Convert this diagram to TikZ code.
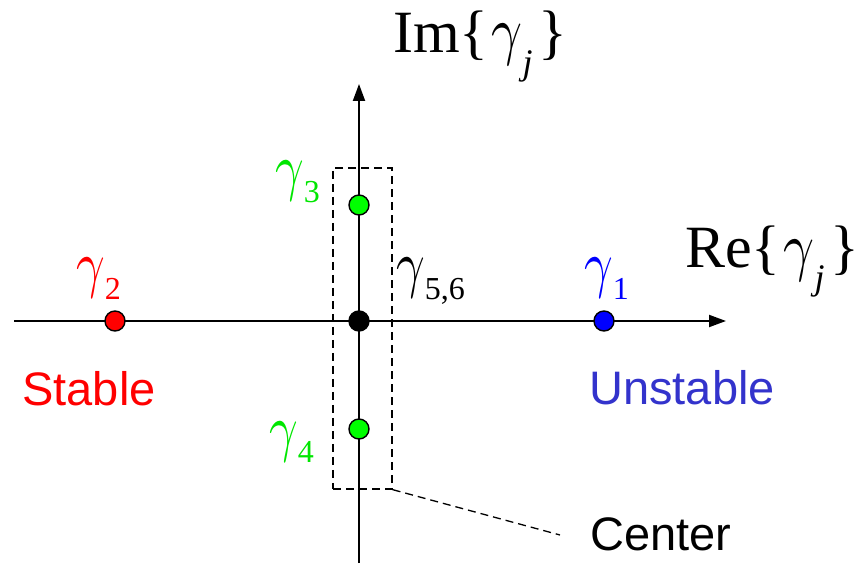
\documentclass[tikz,border=0pt]{standalone}
\usepackage{graphicx}
\usepackage{fontspec}
\setmainfont{Liberation Serif}
\newfontfamily\arialf{Liberation Sans}
\usetikzlibrary{arrows.meta}
\definecolor{pgreen}{RGB}{0,230,0}
\definecolor{dgreen}{RGB}{0,255,0}
\definecolor{ublue}{RGB}{51,51,204}
\newcommand{\gsub}[1]{\raisebox{-14pt}{\fontsize{32}{32}\selectfont #1}}
\newcommand{\gamsz}[2]{\scalebox{#1}[#2]{\fontsize{10}{12}\selectfont$\gamma$}}
\newcommand{\gam}{\gamsz{5.0}{6.4}}
\newcommand{\jsub}{\raisebox{-22pt}{\fontsize{36}{36}\selectfont\itshape j}}
\begin{document}
\begin{tikzpicture}[x=1pt,y=1pt,
  axis/.style={line width=2pt,-{Triangle[length=17pt,width=12pt]}},
  dot/.style={circle,draw=black,line width=1.4pt,minimum size=20pt,inner sep=0pt},
  glabel/.style={anchor=base west,inner sep=0pt,font=\fontsize{56}{56}\selectfont},
  axlabel/.style={anchor=base west,inner sep=0pt,font=\fontsize{60}{60}\selectfont},
  word/.style={anchor=base,inner sep=0pt,font=\arialf\fontsize{47}{47}\selectfont},
  dashline/.style={dashed,dash pattern=on 8pt off 5pt,line width=1.3pt}]
\useasboundingbox (0,0) rectangle (863,563);
% axes
\coordinate (hstart) at (14,242);
\coordinate (hend) at (726,242);
\coordinate (vstart) at (359,0);
\coordinate (vend) at (359,479);
\draw[axis] (hstart) -- (hend);
\draw[axis] (vstart) -- (vend);
% dashed box
\node[draw,dashline,minimum width=59pt,minimum height=321pt,inner sep=0pt] (box) at (362.5,234.5) {};
\coordinate (lead) at (560,28);
\draw[dashline] (box.south east) -- (lead);
% dots
\node[dot,fill=black] (o) at (359,242) {};
\node[dot,fill=dgreen] (g3) at (359,358) {};
\node[dot,fill=dgreen] (g4) at (359,134) {};
\node[dot,fill=red] (g2) at (115,242) {};
\node[dot,fill=blue] (g1) at (604,242) {};
% labels
\node[axlabel] (im) at (393,510) {Im\{\hspace{3pt}\gamsz{5.4}{6.6}\jsub\hspace{6pt}\}};
\node[axlabel] (re) at (685,295) {Re\{\hspace{3pt}\gamsz{5.4}{6.6}\jsub\hspace{6pt}\}};
\node[glabel,text=red] (l2) at (76,277) {\gam\gsub{2}};
\node[glabel,text=blue] (l1) at (584,277) {\gam\gsub{1}};
\node[glabel,text=pgreen] (l3) at (275,374) {\gam\gsub{3}};
\node[glabel,text=pgreen] (l4) at (269,114) {\gam\gsub{4}};
\node[glabel] (l56) at (396,277) {\gam\gsub{5,6}};
\node[word,text=red] (stable) at (89,157) {Stable};
\node[word,text=ublue] (unstable) at (682,158) {Unstable};
\node[word] (center) at (661,13) {Center};
\end{tikzpicture}
\end{document}
